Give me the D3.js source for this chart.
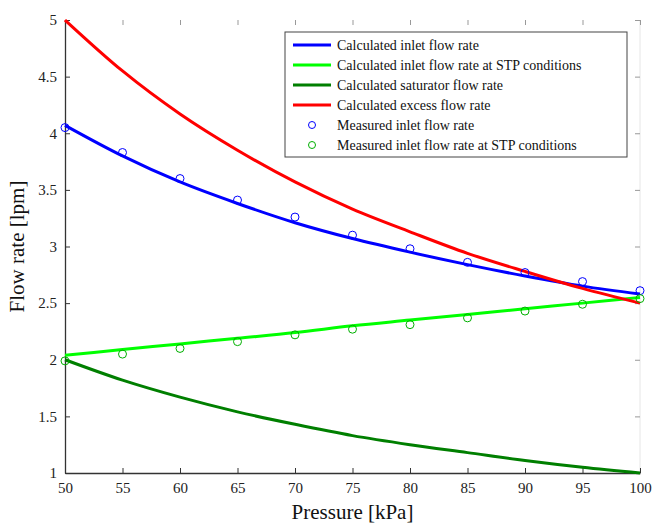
<!DOCTYPE html>
<html lang="en">
<head>
<meta charset="UTF-8">
<title>Flow rate vs pressure</title>
<style>
  body { margin: 0; background: #fff; }
  svg text { font-family: "Liberation Serif", "Times New Roman", Times, serif; }
</style>
</head>
<body>
<div id="chart"></div>
<script src="https://d3js.org/d3.v7.min.js"></script>
<script>
// pressure values [kPa]
const pressure = [50, 55, 60, 65, 70, 75, 80, 85, 90, 95, 100];

// calculated curves at each pressure
const calcInlet = [4.07, 3.80, 3.57, 3.38, 3.21, 3.07, 2.95, 2.84, 2.74, 2.65, 2.58];
const calcInletSTP = [2.04, 2.09, 2.14, 2.19, 2.24, 2.30, 2.35, 2.40, 2.45, 2.50, 2.55];
const calcSaturator = [2.00, 1.82, 1.67, 1.54, 1.43, 1.33, 1.25, 1.18, 1.11, 1.05, 1.00];
const calcExcess = [5.00, 4.55, 4.17, 3.85, 3.57, 3.33, 3.13, 2.94, 2.78, 2.63, 2.50];

// measured points
const measInlet = [4.05, 3.83, 3.60, 3.41, 3.26, 3.10, 2.98, 2.86, 2.77, 2.69, 2.61];
const measInletSTP = [1.99, 2.05, 2.10, 2.16, 2.22, 2.27, 2.31, 2.37, 2.43, 2.49, 2.54];

const xTicks = [50, 55, 60, 65, 70, 75, 80, 85, 90, 95, 100];
const yTicks = [1, 1.5, 2, 2.5, 3, 3.5, 4, 4.5, 5];

const W = 654, H = 525;
const margin = {top: 20, right: 14, bottom: 52, left: 65};
const width = W - margin.left - margin.right;
const height = H - margin.top - margin.bottom;
const serif = "Liberation Serif, Times New Roman, serif";

const svg = d3.select("#chart").append("svg")
  .attr("width", W)
  .attr("height", H)
  .attr("font-family", serif);

const g = svg.append("g")
  .attr("transform", `translate(${margin.left},${margin.top})`);

const x = d3.scaleLinear().domain([50, 100]).range([0, width]);
const y = d3.scaleLinear().domain([1, 5]).range([height, 0]);

// faint box on right, ticks on top/right
g.append("line")
  .attr("x1", width).attr("x2", width).attr("y1", 0).attr("y2", height)
  .attr("stroke", "#e6e6e6").attr("stroke-width", 1);

g.append("g")
  .call(d3.axisTop(x).tickValues(xTicks).tickSize(-5).tickFormat(""))
  .call(a => a.select(".domain").remove())
  .call(a => a.selectAll("line").attr("stroke", "#999"));

g.append("g")
  .attr("transform", `translate(${width},0)`)
  .call(d3.axisRight(y).tickValues(yTicks).tickSize(-5).tickFormat(""))
  .call(a => a.select(".domain").remove())
  .call(a => a.selectAll("line").attr("stroke", "#999"));

// bottom axis
const xAxis = g.append("g")
  .attr("transform", `translate(0,${height})`)
  .call(d3.axisBottom(x).tickValues(xTicks).tickFormat(d => d)
    .tickSize(-5).tickSizeOuter(0).tickPadding(9))
  .attr("font-family", serif)
  .attr("font-size", 15);
xAxis.select(".domain").attr("stroke", "#333").attr("stroke-width", 1.3);
xAxis.selectAll("line").attr("stroke", "#333");
xAxis.selectAll("text").attr("fill", "#222");

// left axis
const yAxis = g.append("g")
  .call(d3.axisLeft(y).tickValues(yTicks).tickFormat(d => d)
    .tickSize(-5).tickSizeOuter(0).tickPadding(8))
  .attr("font-family", serif)
  .attr("font-size", 15);
yAxis.select(".domain").attr("stroke", "#333").attr("stroke-width", 1.3);
yAxis.selectAll("line").attr("stroke", "#333");
yAxis.selectAll("text").attr("fill", "#222");

// axis titles
svg.append("text")
  .attr("x", margin.left + width / 2)
  .attr("y", 519)
  .attr("text-anchor", "middle")
  .attr("font-size", 21)
  .attr("fill", "#111")
  .text("Pressure [kPa]");

svg.append("text")
  .attr("transform", `translate(24,${margin.top + height / 2}) rotate(-90)`)
  .attr("text-anchor", "middle")
  .attr("font-size", 21)
  .attr("fill", "#111")
  .text("Flow rate [lpm]");

// lines
const series = [
  {name: "Calculated inlet flow rate", values: calcInlet, color: "#0000ff"},
  {name: "Calculated inlet flow rate at STP conditions", values: calcInletSTP, color: "#00ff00"},
  {name: "Calculated saturator flow rate", values: calcSaturator, color: "#007f00"},
  {name: "Calculated excess flow rate", values: calcExcess, color: "#ff0000"}
];
const markers = [
  {name: "Measured inlet flow rate", values: measInlet, color: "#0000ff"},
  {name: "Measured inlet flow rate at STP conditions", values: measInletSTP, color: "#00b000"}
];

const line = d3.line()
  .x((d, i) => x(pressure[i]))
  .y(d => y(d))
  .curve(d3.curveMonotoneX);

const plot = g.append("g");
series.forEach(s => {
  plot.append("path")
    .datum(s.values)
    .attr("d", line)
    .attr("fill", "none")
    .attr("stroke", s.color)
    .attr("stroke-width", 3);
});

markers.forEach(m => {
  plot.selectAll(null)
    .data(m.values)
    .enter()
    .append("circle")
    .attr("cx", (d, i) => x(pressure[i]))
    .attr("cy", d => y(d))
    .attr("r", 4)
    .attr("fill", "none")
    .attr("stroke", m.color)
    .attr("stroke-width", 1);
});

// legend
const lg = svg.append("g").attr("transform", "translate(285,32)");
lg.append("rect")
  .attr("width", 342).attr("height", 125)
  .attr("fill", "#fff")
  .attr("stroke", "#444").attr("stroke-width", 1);

const rowH = 20;
series.forEach((s, i) => {
  const yy = 13 + i * rowH;
  lg.append("line")
    .attr("x1", 8).attr("x2", 46).attr("y1", yy).attr("y2", yy)
    .attr("stroke", s.color).attr("stroke-width", 3);
  lg.append("text")
    .attr("x", 52).attr("y", yy).attr("dy", "0.35em")
    .attr("font-size", 14).attr("fill", "#111")
    .text(s.name);
});
markers.forEach((m, j) => {
  const yy = 13 + (series.length + j) * rowH;
  lg.append("circle")
    .attr("cx", 27).attr("cy", yy).attr("r", 3.5)
    .attr("fill", "none").attr("stroke", m.color).attr("stroke-width", 1);
  lg.append("text")
    .attr("x", 52).attr("y", yy).attr("dy", "0.35em")
    .attr("font-size", 14).attr("fill", "#111")
    .text(m.name);
});
</script>
</body>
</html>
